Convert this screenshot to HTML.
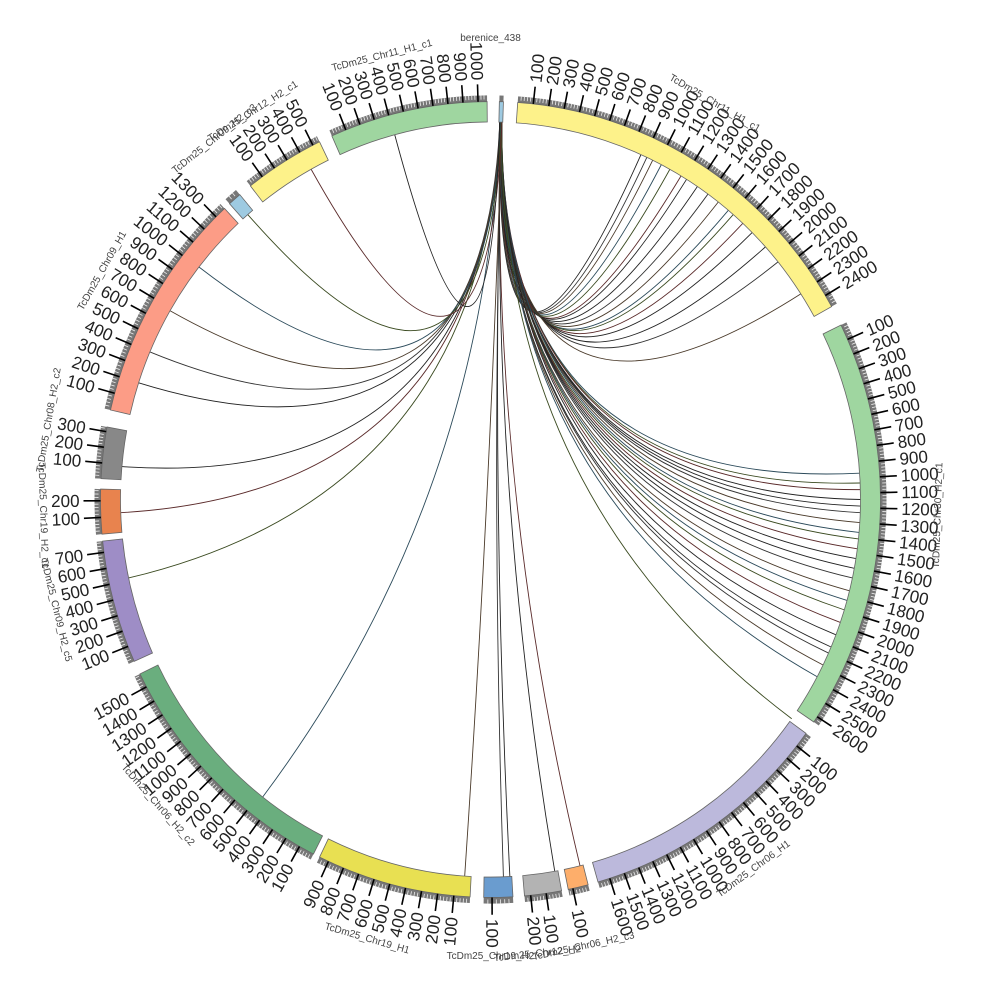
<!DOCTYPE html>
<html><head><meta charset="utf-8"><style>
html,body{margin:0;padding:0;background:#fff;width:1000px;height:1000px;overflow:hidden}
svg{display:block}
text{font-family:"Liberation Sans","DejaVu Sans",sans-serif}
</style></head><body>
<svg width="1000" height="1000" viewBox="0 0 1000 1000" xmlns="http://www.w3.org/2000/svg"><g id="s" transform="translate(0,-10.2) scale(1,1.0204)"></g></svg>
<script>
var NS="http://www.w3.org/2000/svg",S=document.getElementById('s');
var cx=490.5,cy=499.5,RI=370,RO=390,RB=396;
function P(a,r){var t=a*Math.PI/180;return [cx+r*Math.sin(t),cy-r*Math.cos(t)];}
function el(n,at,txt){var e=document.createElementNS(NS,n);for(var k in at)e.setAttribute(k,at[k]);if(txt!=null)e.textContent=txt;S.appendChild(e);return e;}
function arc(a0,a1,r0,r1){var p1=P(a0,r1),p2=P(a1,r1),p3=P(a1,r0),p4=P(a0,r0),l=(a1-a0)>180?1:0;
return "M"+p1+" A"+r1+" "+r1+" 0 "+l+" 1 "+p2+" L"+p3+" A"+r0+" "+r0+" 0 "+l+" 0 "+p4+"Z";}
var segs=[
["berenice_438",1.3,1.9,0,"#9ecae1",0],
["TcDm25_Chr11_H1_c1",4,61,2480,"#fdf28a",30],
["TcDm25_Chr30_H2_c1",64,124,2640,"#9fd6a0",92],
["TcDm25_Chr06_H1",126,164,1680,"#bcb9dc",144],
["TcDm25_Chr06_H2_c3",165.5,168.5,130,"#fdae6b",168],
["TcDm25_Chr12_H2",169.5,175,240,"#b3b3b3",174],
["TcDm25_Chr19_H2",176.7,181,140,"#6a9ccf",180],
["TcDm25_Chr19_H1",183,206,960,"#e8e052",196],
["TcDm25_Chr06_H2_c2",207,244,1590,"#6aae7e",228],
["TcDm25_Chr09_H2_c5",246,264,770,"#9e8dc6",256],
["TcDm25_Chr19_H2_c1",265,271.5,270,"#e8834e",268],
["TcDm25_Chr08_H2_c2",273,280.5,330,"#888888",280],
["TcDm25_Chr09_H1",283,317,1370,"#fc9c86",300],
["TcDm25_Chr09_H2_c3",318,320,60,"#9ecae1",322],
["TcDm25_Chr12_H2_c1",322,334,550,"#fdf28a",328],
["TcDm25_Chr11_H1_c1",336,359.5,1060,"#9fd6a0",346]];
var src=1.6,targets=[24,25,26,27.5,29,31,32,34,36,38,40,41,43,45,48,51,57,
86,87.5,88.5,90,91,92,93.5,95,96,97.5,99,100.5,102,104,105.5,107,109,111,113,114,116,118,
125.5,166,170,177,178,184,218,258,268,275,288,293,300,308,319,331,345];
var cols=["#222","#333","#4a3a2a","#2b4a5a","#3a4a20","#5a2a2a","#222"];
targets.forEach(function(a,i){var p0=P(src+(i%5-2)*0.08,RI),p1=P(a,RI);
var c=[cx+(p0[0]+p1[0]-2*cx)*0.02,cy+(p0[1]+p1[1]-2*cy)*0.02];
el("path",{d:"M"+p0+" Q"+c+" "+p1,fill:"none",stroke:cols[i%cols.length],"stroke-width":0.9});});
segs.forEach(function(s){
 var a0=s[1],a1=s[2];
 el("path",{d:arc(a0,a1,RO,RB),fill:"#777",stroke:"none"});
 el("path",{d:arc(a0,a1,RI,RO),fill:s[4],stroke:"#666","stroke-width":0.8});
 if(s[3]>0){var k=(a1-a0)/s[3];
  for(var v=20;v<s[3];v+=20){var a=a0+v*k;var q0=P(a,RO+2),q1=P(a,RB);
   el("line",{x1:q0[0],y1:q0[1],x2:q1[0],y2:q1[1],stroke:"#eee","stroke-width":0.8});}
  for(var v=100;v<=s[3];v+=100){var a=a0+v*k;
   var q0=P(a,RO),q1=P(a,407),q2=P(a,411);
   el("line",{x1:q0[0],y1:q0[1],x2:q1[0],y2:q1[1],stroke:"#000","stroke-width":1.6});
   var right=a<180,rot=right?a-90:a+90;
   el("text",{x:q2[0],y:q2[1],"font-size":17,fill:"#222","text-anchor":right?"start":"end","dominant-baseline":"central",transform:"rotate("+rot+" "+q2[0]+" "+q2[1]+")"},String(v));}
 }
 var m=s[5],rr=s[0]=="berenice_438"?452:448,q=P(m,rr),rot=(m<90||m>270)?m:m-180;
 el("text",{x:q[0],y:q[1],"font-size":10,fill:"#444","text-anchor":"middle","dominant-baseline":"central",transform:"rotate("+rot+" "+q[0]+" "+q[1]+")"},s[0]);
});
</script>
</body></html>
